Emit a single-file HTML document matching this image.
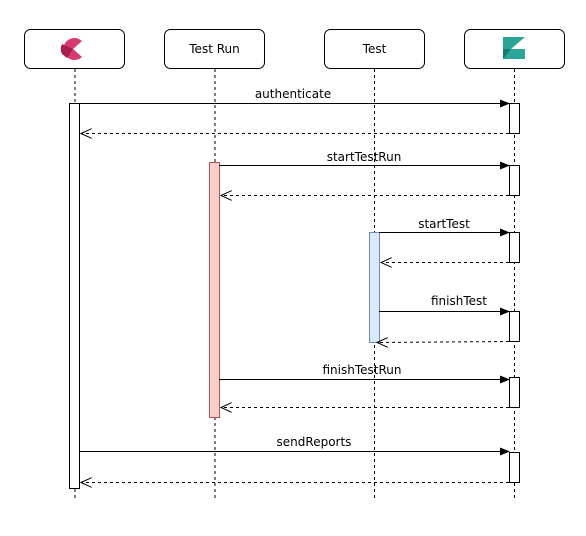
<!DOCTYPE html>
<html><head><meta charset="utf-8"><style>
html,body{margin:0;padding:0;background:#fff;}
svg text{font-family:"DejaVu Sans","Liberation Sans",sans-serif;font-size:12px;fill:#000;}
</style></head><body>
<svg width="586" height="531" viewBox="0 0 586 531" xmlns="http://www.w3.org/2000/svg">
<defs>
<marker id="a" markerWidth="10" markerHeight="8" refX="9" refY="4" orient="auto" markerUnits="userSpaceOnUse"><path d="M0,0 L10,4 L0,8 Z" fill="#000"/></marker>
<marker id="o" markerWidth="12" markerHeight="10" refX="11" refY="5" orient="auto" markerUnits="userSpaceOnUse"><path d="M0,0 L11,5 L0,10" fill="none" stroke="#000"/></marker>
</defs>
<g stroke="#000" stroke-dasharray="3,3" fill="none">
<line x1="75" y1="69" x2="75" y2="498"/>
<line x1="215" y1="69" x2="215" y2="498"/>
<line x1="374.5" y1="69" x2="374.5" y2="498"/>
<line x1="514.5" y1="69" x2="514.5" y2="498"/>
</g>
<g fill="#fff" stroke="#000">
<rect x="24.5" y="29.5" width="100" height="39" rx="6"/>
<rect x="164.5" y="29.5" width="100" height="39" rx="6"/>
<rect x="324.5" y="29.5" width="100" height="39" rx="6"/>
<rect x="464.5" y="29.5" width="100" height="39" rx="6"/>
</g>
<text x="214.5" y="53" text-anchor="middle">Test Run</text>
<text x="374.5" y="53" text-anchor="middle">Test</text>
<path d="M82,41 A11,11 0 1 0 82,57 L73,49 Z" fill="#d63a6e"/>
<path d="M73,49 L62,44 A11,11 0 0 0 62,54 L67,58 Z" fill="#a81f4f"/>
<path d="M503,37 L525,37 L511,49 L525,49 L525,59 L503,59 Z" fill="#2aa596"/>
<path d="M503,49 L511,49 L503,59 Z" fill="#157d70"/>
<rect x="69.5" y="103.5" width="10" height="385" fill="#fff" stroke="#000"/>
<rect x="209.5" y="162.5" width="10" height="255" fill="#f8cecc" stroke="#b85450"/>
<rect x="369.5" y="232.5" width="10" height="110" fill="#dae8fc" stroke="#6c8ebf"/>
<g fill="#fff" stroke="#000">
<rect x="509.5" y="103.5" width="10" height="30"/>
<rect x="509.5" y="165.5" width="10" height="30"/>
<rect x="509.5" y="232.5" width="10" height="30"/>
<rect x="509.5" y="311.5" width="10" height="30"/>
<rect x="509.5" y="377.5" width="10" height="30"/>
<rect x="509.5" y="452.5" width="10" height="30"/>
</g>
<g stroke="#000" fill="none">
<line x1="79" y1="103.5" x2="509" y2="103.5" marker-end="url(#a)"/>
<line x1="219" y1="165.5" x2="509" y2="165.5" marker-end="url(#a)"/>
<line x1="379" y1="232.5" x2="509" y2="232.5" marker-end="url(#a)"/>
<line x1="379" y1="311.5" x2="509" y2="311.5" marker-end="url(#a)"/>
<line x1="219" y1="379.5" x2="509" y2="379.5" marker-end="url(#a)"/>
<line x1="79" y1="451.5" x2="509" y2="451.5" marker-end="url(#a)"/>
</g>
<g stroke="#000" fill="none" stroke-dasharray="3,3">
<line x1="509" y1="133.5" x2="81" y2="133.5" marker-end="url(#o)"/>
<line x1="509" y1="195.5" x2="221" y2="195.5" marker-end="url(#o)"/>
<line x1="509" y1="262.5" x2="381" y2="262.5" marker-end="url(#o)"/>
<line x1="509" y1="341.5" x2="377" y2="342.5" marker-end="url(#o)"/>
<line x1="509" y1="407.5" x2="221" y2="407.5" marker-end="url(#o)"/>
<line x1="509" y1="482.5" x2="81" y2="482.5" marker-end="url(#o)"/>
</g>
<text x="293" y="98" text-anchor="middle">authenticate</text>
<text x="364" y="161" text-anchor="middle">startTestRun</text>
<text x="444" y="228" text-anchor="middle">startTest</text>
<text x="459" y="305" text-anchor="middle">finishTest</text>
<text x="362" y="374" text-anchor="middle">finishTestRun</text>
<text x="314" y="446" text-anchor="middle">sendReports</text>
</svg>
</body></html>
